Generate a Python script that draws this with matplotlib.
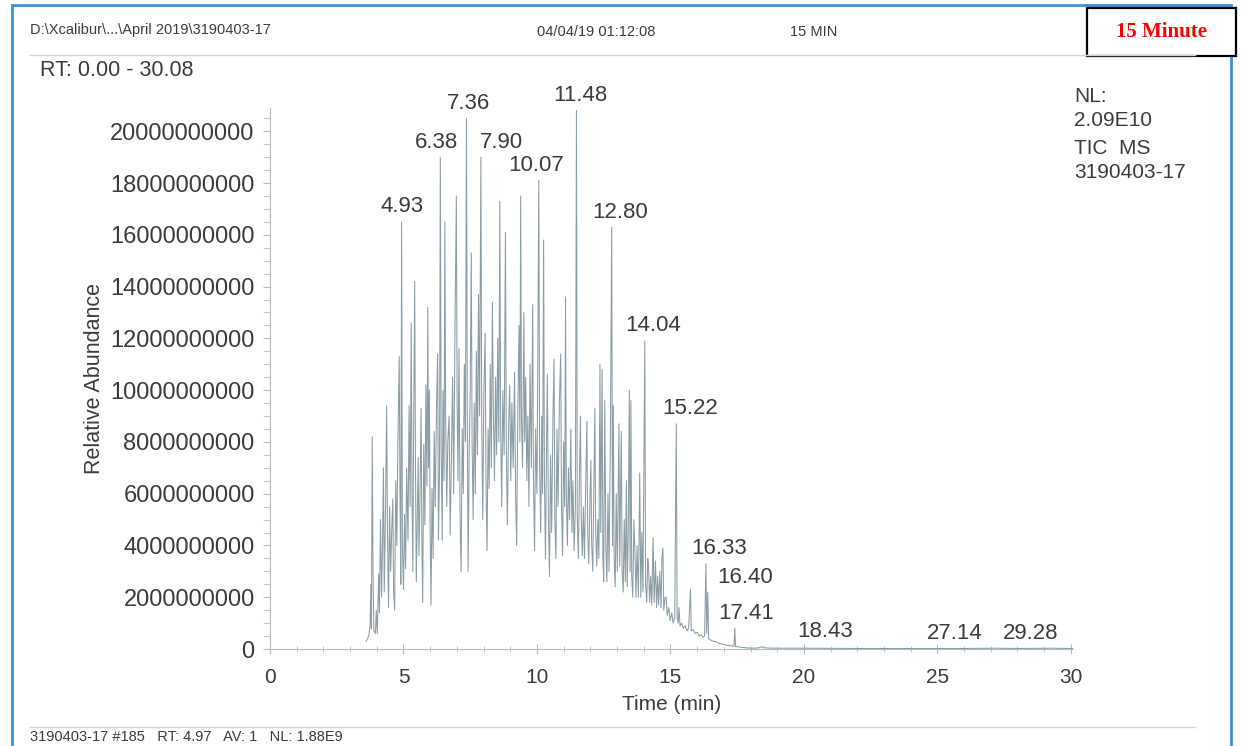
import numpy as np
import matplotlib.pyplot as plt
from matplotlib.patches import Rectangle
from matplotlib.lines import Line2D
from matplotlib.ticker import MultipleLocator

# -----------------------------
# Data (time in min, abundance in 1e9 counts)
# -----------------------------
rt_min = [
    3.60, 3.70, 3.75, 3.78, 3.80, 3.83, 3.86, 3.89, 3.95, 3.98, 4.02, 4.07, 4.10, 4.14,
    4.18, 4.22, 4.25, 4.28, 4.33, 4.37, 4.40, 4.44, 4.48, 4.52, 4.56, 4.60, 4.63, 4.67,
    4.71, 4.75, 4.79, 4.84, 4.87, 4.90, 4.93, 4.96, 5.00, 5.04, 5.08, 5.12, 5.17, 5.21,
    5.25, 5.29, 5.32, 5.35, 5.38, 5.42, 5.45, 5.48, 5.52, 5.55, 5.58, 5.62, 5.66, 5.69,
    5.72, 5.76, 5.80, 5.84, 5.88, 5.91, 5.94, 5.97, 6.00, 6.03, 6.07, 6.11, 6.15, 6.19,
    6.24, 6.28, 6.31, 6.35, 6.38, 6.41, 6.45, 6.48, 6.52, 6.55, 6.58, 6.62, 6.66, 6.71,
    6.75, 6.79, 6.84, 6.88, 6.93, 6.98, 7.01, 7.04, 7.08, 7.12, 7.16, 7.20, 7.24, 7.28,
    7.32, 7.36, 7.39, 7.42, 7.46, 7.50, 7.54, 7.57, 7.61, 7.65, 7.69, 7.73, 7.77, 7.81,
    7.85, 7.90, 7.93, 7.97, 8.01, 8.06, 8.09, 8.13, 8.17, 8.21, 8.25, 8.29, 8.33, 8.37,
    8.41, 8.45, 8.49, 8.53, 8.57, 8.61, 8.64, 8.68, 8.72, 8.77, 8.82, 8.85, 8.89, 8.94,
    8.98, 9.02, 9.06, 9.11, 9.16, 9.20, 9.24, 9.28, 9.33, 9.36, 9.39, 9.42, 9.46, 9.51,
    9.54, 9.58, 9.62, 9.66, 9.70, 9.74, 9.79, 9.84, 9.87, 9.91, 9.95, 10.00, 10.03, 10.07,
    10.10, 10.14, 10.18, 10.21, 10.25, 10.28, 10.32, 10.36, 10.39, 10.43, 10.47, 10.51,
    10.55, 10.60, 10.64, 10.67, 10.71, 10.75, 10.79, 10.84, 10.89, 10.92, 10.96, 11.00,
    11.04, 11.07, 11.10, 11.14, 11.18, 11.22, 11.27, 11.31, 11.35, 11.39, 11.44, 11.48,
    11.51, 11.55, 11.59, 11.63, 11.66, 11.70, 11.74, 11.78, 11.82, 11.87, 11.90, 11.94,
    11.98, 12.02, 12.05, 12.09, 12.13, 12.17, 12.20, 12.24, 12.28, 12.32, 12.36, 12.39,
    12.44, 12.47, 12.50, 12.54, 12.58, 12.62, 12.66, 12.70, 12.75, 12.80, 12.83, 12.86,
    12.89, 12.93, 12.97, 13.01, 13.07, 13.10, 13.16, 13.19, 13.23, 13.27, 13.31, 13.35,
    13.38, 13.42, 13.46, 13.49, 13.52, 13.55, 13.59, 13.63, 13.67, 13.71, 13.75, 13.80,
    13.85, 13.89, 13.93, 13.97, 14.04, 14.07, 14.11, 14.15, 14.18, 14.22, 14.26, 14.30,
    14.35, 14.39, 14.44, 14.48, 14.52, 14.56, 14.60, 14.65, 14.68, 14.72, 14.75, 14.80,
    14.84, 14.88, 14.94, 14.99, 15.05, 15.10, 15.16, 15.22, 15.25, 15.29, 15.32, 15.36,
    15.42, 15.48, 15.55, 15.62, 15.68, 15.75, 15.78, 15.85, 15.92, 16.00, 16.08, 16.15,
    16.22, 16.28, 16.33, 16.36, 16.40, 16.43, 16.50, 16.60, 16.70, 16.80, 16.90, 17.00,
    17.10, 17.20, 17.30, 17.38, 17.41, 17.44, 17.55, 17.70, 17.90, 18.10, 18.30, 18.43,
    18.55, 19.00, 20.00, 22.00, 24.00, 26.00, 27.14, 28.00, 29.28, 30.08,
]

abundance_e9 = [
    0.3, 0.5, 0.9, 2.5, 0.8, 8.2, 3.0, 0.7, 0.6, 1.5, 0.6, 2.9, 1.4, 5.0,
    2.0, 4.4, 7.0, 2.2, 5.6, 9.4, 4.5, 1.6, 5.5, 3.0, 4.6, 5.8, 2.2, 1.5,
    6.5, 4.0, 8.0, 11.3, 6.0, 2.5, 16.5, 4.0, 2.3, 5.2, 3.1, 7.0, 4.2, 9.4,
    5.5, 12.6, 6.0, 3.0, 8.5, 14.2, 7.0, 2.6, 5.5, 7.4, 3.6, 6.0, 9.3, 4.0,
    1.8, 7.9, 4.8, 10.2, 6.3, 13.2, 7.0, 10.0, 4.5, 1.7, 6.2, 3.5, 8.4, 5.5,
    9.5, 11.4, 4.2, 7.0, 19.0, 8.0, 4.2, 10.0, 6.5, 16.5, 9.0, 5.5, 8.0, 9.0,
    4.4, 7.0, 10.5, 6.0, 12.5, 17.5, 9.5, 6.5, 11.6, 5.0, 3.0, 8.5, 6.0, 11.0,
    8.0, 20.5, 9.0, 3.0, 7.5, 10.0, 15.3, 8.0, 5.0, 9.5, 6.0, 11.5, 7.5, 13.7,
    9.0, 19.0, 9.0, 5.0, 9.8, 12.2, 6.5, 3.8, 8.5, 6.2, 11.0, 7.0, 13.4, 9.0,
    6.5, 10.5, 7.5, 12.0, 8.0, 17.3, 8.5, 5.5, 10.0, 7.5, 16.1, 8.0, 4.8, 8.8,
    10.2, 6.5, 9.5, 7.0, 10.7, 6.0, 4.0, 9.0, 12.5, 8.0, 17.5, 9.0, 7.0, 13.0,
    8.0, 10.5, 6.5, 9.0, 5.5, 11.0, 7.0, 13.3, 6.5, 3.8, 8.5, 6.0, 11.5, 18.1,
    7.0, 4.5, 9.0, 6.0, 15.8, 6.5, 3.5, 8.0, 10.6, 5.0, 2.8, 7.5,
    4.5, 9.0, 11.2, 5.0, 3.5, 8.5, 5.5, 9.5, 11.4, 5.5, 3.6, 8.0,
    5.5, 13.6, 6.0, 4.0, 7.0, 5.0, 8.5, 4.5, 6.5, 3.8, 5.5, 20.8,
    5.0, 3.5, 6.5, 9.0, 5.0, 3.6, 5.5, 3.5, 6.0, 8.8, 4.5, 3.3,
    5.5, 7.3, 4.0, 3.0, 6.0, 9.3, 4.5, 3.2, 5.0, 3.5, 11.0, 4.5,
    10.8, 3.5, 2.6, 9.6, 4.0, 2.6, 6.0, 3.0, 8.0, 16.3, 4.0, 9.4,
    3.5, 2.4, 6.0, 3.0, 8.7, 3.2, 8.4, 3.0, 2.2, 5.0, 2.6, 6.5,
    2.4, 4.5, 10.0, 3.0, 9.6, 2.8, 2.0, 5.0, 3.7, 2.0, 4.0, 2.0,
    6.8, 2.0, 4.5, 2.2, 11.9, 2.5, 1.8, 3.5, 3.2, 1.8, 2.8, 1.7,
    4.3, 1.8, 3.4, 1.6, 2.8, 1.7, 3.0, 1.6, 3.5, 3.9, 1.5, 2.0,
    2.0, 1.3, 1.6, 1.1, 1.4, 1.0, 1.2, 8.7, 1.2, 1.0, 1.6, 0.9,
    1.0, 0.8, 0.9, 0.7, 0.8, 2.3, 0.7, 0.75, 0.6, 0.65, 0.5, 0.55,
    0.45, 0.5, 3.3, 0.6, 2.2, 0.4, 0.35, 0.3, 0.28, 0.22, 0.2, 0.17,
    0.15, 0.13, 0.12, 0.1, 0.8, 0.1, 0.08, 0.06, 0.04, 0.03, 0.04, 0.09,
    0.04, 0.03, 0.03, 0.02, 0.02, 0.02, 0.03, 0.02, 0.03, 0.02,
]

# labelled peaks and where the label sits relative to the peak top (pixels)
label_rt = [4.93, 6.38, 7.36, 7.90, 10.07, 11.48, 12.80, 14.04, 15.22,
            16.33, 16.40, 17.41, 18.43, 27.14, 29.28]
label_dx = [0, -4, 2, 21, -3, 4, 8, 8, 14, 13, 37, 11, 63, -40, -21]

y_ticks = [0, 2e9, 4e9, 6e9, 8e9, 1e10, 1.2e10, 1.4e10, 1.6e10, 1.8e10, 2e10]
x_ticks = [0, 5, 10, 15, 20, 25, 30]

# -----------------------------
# Figure
# -----------------------------
plt.rcParams["font.family"] = ["Liberation Sans", "DejaVu Sans"]
W, H = 1241, 746
fig = plt.figure(figsize=(W / 100, H / 100), dpi=100)
fig.patch.set_facecolor("white")

text_col = "#3a3d40"
line_col = "#7d919b"
axis_col = "#b4bdc1"

ax = fig.add_axes([270 / W, 1 - 649 / H, 803 / W, 541 / H])
rt = np.array(rt_min)
ab = np.array(abundance_e9) * 1e9
ax.plot(rt, ab, color=line_col, lw=0.75, alpha=0.9)

ax.set_xlim(0, 30.08)
ax.set_ylim(0, 2.09e10)
for s in ["top", "right"]:
    ax.spines[s].set_visible(False)
for s in ["left", "bottom"]:
    ax.spines[s].set_color(axis_col)
    ax.spines[s].set_linewidth(0.8)

ax.set_xticks(x_ticks)
ax.set_xticklabels([str(v) for v in x_ticks], fontsize=15, color=text_col)
ax.xaxis.set_minor_locator(MultipleLocator(1))
ax.set_yticks(y_ticks)
ax.set_yticklabels([f"{int(v)}" for v in y_ticks], fontsize=17, color=text_col)
ax.yaxis.set_minor_locator(MultipleLocator(5e8))
ax.tick_params(axis="x", which="both", direction="inout", color=axis_col, pad=10)
ax.tick_params(axis="x", which="major", length=7)
ax.tick_params(axis="x", which="minor", length=5)
ax.tick_params(axis="y", which="both", direction="out", color=axis_col, length=5, pad=6)

ax.set_xlabel("Time (min)", fontsize=15, color=text_col, labelpad=6)
ax.set_ylabel("Relative Abundance", fontsize=15.5, color=text_col, labelpad=4)

# peak labels
for t, dx in zip(label_rt, label_dx):
    h = ab[np.argmin(np.abs(rt - t))]
    ax.annotate(f"{t:.2f}", xy=(t, h), xytext=(dx, 15), textcoords="offset pixels",
                ha="center", va="center", fontsize=16, color=text_col)

# -----------------------------
# Page furniture of the printout
# -----------------------------
fig.text(40 / W, 1 - 70 / H, "RT: 0.00 - 30.08", fontsize=15.5, color=text_col, va="center")
fig.text(30 / W, 1 - 30 / H, "D:\\Xcalibur\\...\\April 2019\\3190403-17",
         fontsize=10.5, color=text_col, va="center")
fig.text(537 / W, 1 - 32 / H, "04/04/19 01:12:08", fontsize=10.5, color=text_col, va="center")
fig.text(790 / W, 1 - 32 / H, "15 MIN", fontsize=10.5, color=text_col, va="center")

side = ["NL:", "2.09E10", "TIC  MS", "3190403-17"]
for txt, yy in zip(side, [96, 121, 148, 173]):
    fig.text(1074 / W, 1 - yy / H, txt, fontsize=15, color=text_col, va="center")

# next scan header, just below the lower rule
fig.text(30 / W, 1 - 744 / H, "3190403-17 #185   RT: 4.97   AV: 1   NL: 1.88E9",
         fontsize=10.5, color=text_col, va="bottom")

# thin gray rules
fig.add_artist(Line2D([30 / W, 1195 / W], [1 - 55 / H, 1 - 55 / H], color="#d0d4d6", lw=1))
fig.add_artist(Line2D([30 / W, 1195 / W], [1 - 727 / H, 1 - 727 / H], color="#d0d4d6", lw=1))

# blue frame
fig.add_artist(Rectangle((12 / W, -0.05), 1219 / W, 1 - 5 / H + 0.05, transform=fig.transFigure,
                         fill=False, edgecolor="#3f8fd8", lw=2))

# "15 Minute" box
fig.add_artist(Rectangle((1087 / W, 1 - 56 / H), 149 / W, 48 / H, transform=fig.transFigure,
                         facecolor="white", edgecolor="black", lw=1.6))
fig.text(1161 / W, 1 - 32 / H, "15 Minute", fontsize=15, color="red", fontweight="bold",
         family=["Liberation Serif", "DejaVu Serif"], ha="center", va="center")

fig.savefig("out.png", dpi=100)
